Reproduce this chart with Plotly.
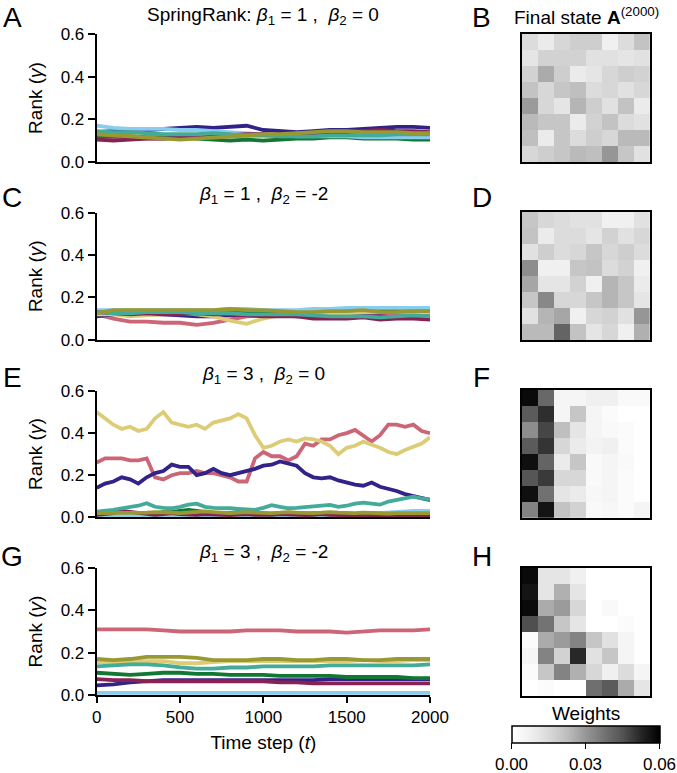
import plotly.graph_objects as go

W, H = 677, 773

# ---------------- data ----------------
t_coarse = list(range(0, 2001, 100))
t_fine = list(range(0, 2001, 50))
node_colors = ['#CC6677', '#332288', '#DDCC77', '#117733', '#88CCEE', '#882255', '#44AA99', '#999933']
xtick_vals = [0, 500, 1000, 1500, 2000]
ytick_vals = [0.0, 0.2, 0.4, 0.6]
ytick_text = ['0.0', '0.2', '0.4', '0.6']
cbar_vals = [0.0, 0.03, 0.06]
cbar_text = ['0.00', '0.03', '0.06']

# Panel A: beta1=1, beta2=0 (order: rose, indigo, sand, green, cyan, wine, teal, olive)
rank_A = [
    [0.11,0.105,0.11,0.11,0.11,0.115,0.115,0.12,0.12,0.12,0.125,0.125,0.12,0.12,0.125,0.12,0.12,0.125,0.13,0.13,0.13],
    [0.14,0.145,0.15,0.15,0.155,0.16,0.165,0.16,0.165,0.17,0.15,0.145,0.14,0.145,0.15,0.15,0.155,0.16,0.165,0.165,0.16],
    [0.125,0.125,0.13,0.125,0.12,0.12,0.125,0.13,0.13,0.12,0.12,0.115,0.12,0.125,0.125,0.13,0.125,0.13,0.13,0.13,0.13],
    [0.12,0.12,0.12,0.115,0.115,0.115,0.11,0.105,0.10,0.105,0.10,0.105,0.11,0.11,0.115,0.115,0.11,0.11,0.11,0.105,0.105],
    [0.17,0.16,0.155,0.155,0.155,0.15,0.15,0.145,0.14,0.135,0.13,0.125,0.12,0.12,0.12,0.12,0.115,0.115,0.115,0.115,0.115],
    [0.105,0.10,0.105,0.11,0.11,0.115,0.12,0.12,0.125,0.13,0.13,0.125,0.13,0.13,0.135,0.14,0.145,0.15,0.145,0.145,0.14],
    [0.145,0.14,0.14,0.135,0.13,0.13,0.13,0.135,0.13,0.125,0.125,0.12,0.12,0.12,0.125,0.125,0.125,0.125,0.13,0.13,0.13],
    [0.13,0.125,0.12,0.115,0.11,0.105,0.11,0.115,0.12,0.125,0.13,0.13,0.135,0.14,0.145,0.145,0.14,0.14,0.14,0.135,0.135],
]

# Panel C: beta1=1, beta2=-2
rank_C = [
    [0.12,0.10,0.085,0.085,0.08,0.08,0.07,0.08,0.095,0.11,0.115,0.12,0.12,0.115,0.115,0.12,0.12,0.12,0.12,0.12,0.12],
    [0.11,0.12,0.125,0.12,0.12,0.115,0.11,0.11,0.115,0.12,0.12,0.115,0.11,0.115,0.115,0.11,0.11,0.11,0.105,0.105,0.10],
    [0.12,0.12,0.11,0.115,0.12,0.125,0.12,0.11,0.09,0.075,0.10,0.115,0.12,0.125,0.125,0.125,0.13,0.13,0.13,0.13,0.13],
    [0.13,0.13,0.13,0.13,0.13,0.135,0.135,0.13,0.13,0.13,0.135,0.135,0.135,0.14,0.14,0.14,0.145,0.145,0.145,0.145,0.14],
    [0.14,0.14,0.14,0.14,0.14,0.14,0.14,0.14,0.145,0.145,0.14,0.14,0.14,0.145,0.145,0.15,0.15,0.15,0.15,0.15,0.15],
    [0.13,0.125,0.12,0.125,0.12,0.12,0.125,0.12,0.12,0.115,0.11,0.11,0.11,0.10,0.10,0.10,0.105,0.095,0.10,0.10,0.095],
    [0.13,0.125,0.125,0.13,0.13,0.13,0.125,0.125,0.125,0.12,0.12,0.12,0.12,0.115,0.11,0.11,0.11,0.105,0.11,0.115,0.11],
    [0.125,0.14,0.14,0.14,0.14,0.14,0.14,0.14,0.145,0.14,0.14,0.135,0.13,0.13,0.135,0.135,0.14,0.13,0.13,0.135,0.135],
]

# Panel E: beta1=3, beta2=0 (t step 50)
rank_E = [
    [0.26,0.28,0.28,0.28,0.27,0.27,0.28,0.19,0.18,0.20,0.21,0.21,0.22,0.21,0.21,0.20,0.19,0.17,0.17,0.28,
     0.31,0.29,0.29,0.27,0.29,0.35,0.34,0.37,0.37,0.39,0.40,0.415,0.39,0.36,0.39,0.44,0.44,0.43,0.44,0.41,0.40],
    [0.14,0.16,0.17,0.19,0.18,0.16,0.19,0.21,0.22,0.25,0.24,0.24,0.20,0.21,0.23,0.21,0.20,0.21,0.22,0.23,
     0.245,0.25,0.265,0.255,0.245,0.21,0.19,0.185,0.19,0.175,0.165,0.155,0.15,0.165,0.145,0.135,0.125,0.11,0.10,0.09,0.082],
    [0.50,0.47,0.44,0.42,0.43,0.41,0.42,0.47,0.50,0.45,0.44,0.43,0.44,0.42,0.45,0.46,0.47,0.49,0.47,0.39,
     0.33,0.34,0.36,0.37,0.36,0.375,0.37,0.36,0.34,0.30,0.33,0.34,0.36,0.345,0.33,0.31,0.30,0.32,0.335,0.35,0.38],
    [0.015,0.015,0.02,0.02,0.015,0.015,0.02,0.02,0.025,0.025,0.03,0.035,0.03,0.025,0.02,0.02,0.02,0.025,0.02,0.02,
     0.015,0.015,0.02,0.02,0.015,0.015,0.02,0.02,0.015,0.015,0.01,0.01,0.015,0.015,0.01,0.01,0.01,0.01,0.01,0.01,0.01],
    [0.008,0.008,0.006,0.006,0.006,0.006,0.006,0.006,0.006,0.006,0.006,0.006,0.006,0.006,0.006,0.006,0.006,0.006,0.006,0.006,
     0.006,0.006,0.006,0.006,0.006,0.006,0.008,0.008,0.01,0.01,0.01,0.012,0.015,0.018,0.02,0.022,0.025,0.028,0.03,0.03,0.03],
    [0.012,0.015,0.02,0.03,0.025,0.02,0.015,0.012,0.015,0.02,0.015,0.012,0.012,0.015,0.015,0.012,0.01,0.012,0.015,0.012,
     0.01,0.012,0.015,0.012,0.01,0.01,0.012,0.015,0.012,0.01,0.01,0.008,0.008,0.01,0.008,0.008,0.006,0.006,0.006,0.006,0.006],
    [0.027,0.03,0.035,0.043,0.05,0.055,0.067,0.05,0.045,0.043,0.05,0.06,0.065,0.05,0.045,0.045,0.043,0.04,0.037,0.035,
     0.045,0.058,0.05,0.043,0.045,0.048,0.05,0.055,0.059,0.05,0.055,0.065,0.07,0.065,0.06,0.075,0.082,0.09,0.098,0.09,0.085],
    [0.02,0.02,0.022,0.02,0.018,0.02,0.022,0.025,0.025,0.022,0.02,0.022,0.025,0.028,0.025,0.022,0.02,0.022,0.025,0.022,
     0.02,0.02,0.022,0.025,0.022,0.02,0.02,0.022,0.025,0.022,0.02,0.02,0.022,0.02,0.018,0.018,0.02,0.02,0.018,0.018,0.02],
]

# Panel G: beta1=3, beta2=-2
rank_G = [
    [0.31,0.31,0.31,0.31,0.305,0.30,0.30,0.30,0.30,0.305,0.305,0.305,0.30,0.30,0.30,0.295,0.30,0.305,0.305,0.305,0.31],
    [0.045,0.05,0.06,0.065,0.07,0.07,0.07,0.07,0.07,0.07,0.07,0.07,0.07,0.07,0.075,0.075,0.075,0.075,0.075,0.075,0.075],
    [0.155,0.155,0.16,0.16,0.16,0.15,0.15,0.155,0.16,0.16,0.16,0.16,0.16,0.16,0.16,0.16,0.165,0.16,0.16,0.165,0.165],
    [0.105,0.10,0.095,0.10,0.105,0.105,0.10,0.10,0.095,0.095,0.095,0.09,0.09,0.09,0.09,0.085,0.085,0.085,0.085,0.08,0.08],
    [0.01,0.01,0.01,0.01,0.01,0.01,0.01,0.01,0.01,0.01,0.01,0.01,0.01,0.01,0.01,0.01,0.01,0.01,0.01,0.01,0.01],
    [0.075,0.07,0.07,0.065,0.065,0.065,0.065,0.065,0.065,0.065,0.065,0.06,0.06,0.055,0.055,0.055,0.055,0.055,0.055,0.055,0.055],
    [0.135,0.14,0.145,0.145,0.14,0.13,0.125,0.125,0.13,0.13,0.135,0.135,0.135,0.135,0.14,0.14,0.14,0.14,0.14,0.14,0.145],
    [0.17,0.165,0.17,0.18,0.18,0.18,0.175,0.165,0.165,0.165,0.17,0.17,0.165,0.165,0.17,0.17,0.165,0.165,0.17,0.17,0.17],
]

# Final adjacency matrices (weights)
weights_B = [
    [0.014,0.009,0.0155,0.018,0.018,0.0075,0.014,0.021],
    [0.011,0.017,0.017,0.017,0.0125,0.0125,0.011,0.0125],
    [0.017,0.026,0.018,0.009,0.011,0.0155,0.018,0.017],
    [0.021,0.0155,0.020,0.022,0.014,0.0155,0.0125,0.0155],
    [0.029,0.0155,0.011,0.024,0.018,0.0125,0.021,0.009],
    [0.023,0.020,0.020,0.009,0.017,0.021,0.014,0.0125],
    [0.022,0.009,0.020,0.014,0.018,0.0155,0.023,0.023],
    [0.0155,0.018,0.020,0.023,0.022,0.030,0.020,0.0125],
]
weights_D = [
    [0.020,0.0155,0.014,0.0125,0.0125,0.0075,0.0075,0.0125],
    [0.021,0.009,0.014,0.014,0.011,0.017,0.0125,0.0155],
    [0.0125,0.018,0.014,0.0155,0.020,0.0155,0.018,0.014],
    [0.032,0.0075,0.0075,0.020,0.021,0.014,0.017,0.0075],
    [0.027,0.011,0.011,0.017,0.0075,0.024,0.020,0.009],
    [0.020,0.033,0.0155,0.0155,0.020,0.024,0.020,0.011],
    [0.0125,0.024,0.027,0.0075,0.0155,0.017,0.0125,0.030],
    [0.023,0.023,0.041,0.021,0.011,0.0155,0.0075,0.025],
]
weights_F = [
    [0.058,0.040,0.005,0.005,0.0075,0.0075,0.003,0.003],
    [0.043,0.051,0.005,0.020,0.005,0.002,0.0,0.0],
    [0.032,0.047,0.022,0.011,0.005,0.003,0.002,0.0],
    [0.043,0.050,0.0155,0.009,0.006,0.0075,0.002,0.0],
    [0.057,0.041,0.009,0.020,0.003,0.005,0.003,0.0],
    [0.044,0.049,0.0155,0.0155,0.003,0.005,0.002,0.0],
    [0.057,0.038,0.011,0.009,0.004,0.005,0.002,0.0],
    [0.034,0.056,0.021,0.017,0.003,0.004,0.002,0.005],
]
weights_H = [
    [0.058,0.011,0.011,0.0075,0.0,0.0,0.0,0.0],
    [0.056,0.011,0.025,0.011,0.0,0.0,0.0,0.0],
    [0.058,0.026,0.029,0.0155,0.0,0.003,0.0,0.0],
    [0.0455,0.0375,0.020,0.011,0.0,0.0,0.002,0.0],
    [0.002,0.026,0.029,0.034,0.020,0.0125,0.005,0.0],
    [0.005,0.034,0.017,0.052,0.0125,0.020,0.005,0.0],
    [0.002,0.020,0.034,0.025,0.0155,0.0075,0.014,0.005],
    [0.0,0.002,0.0,0.0,0.0385,0.043,0.026,0.011],
]

# ---------------- layout helpers ----------------
def fx(p):
    return p / W

def fy(p):
    return 1 - p / H

FONT = 'Liberation Sans, Arial, Helvetica, sans-serif'
greys = [[0.0, '#ffffff'], [0.125, '#f0f0f0'], [0.25, '#d9d9d9'], [0.375, '#bdbdbd'],
         [0.5, '#969696'], [0.625, '#737373'], [0.75, '#525252'], [0.875, '#252525'], [1.0, '#000000']]

row_tops = [34, 212.7, 391, 568]
row_bots = [162, 339.7, 517.3, 695]
line_x0, line_x1 = 96.7, 430
hm_x0, hm_x1 = 521.7, 650
hm_tops = [33.5, 212, 390, 568]
hm_bots = [162.3, 340, 517.7, 696]

fig = go.Figure()

panels = [(rank_A, t_coarse), (rank_C, t_coarse), (rank_E, t_fine), (rank_G, t_coarse)]
for i, (series, tt) in enumerate(panels):
    ax = '' if i == 0 else str(i + 1)
    for k, vals in enumerate(series):
        fig.add_trace(go.Scatter(x=tt, y=vals, mode='lines', xaxis='x' + ax, yaxis='y' + ax,
                                 line=dict(color=node_colors[k], width=3.8), showlegend=False,
                                 hoverinfo='skip'))

weights = [weights_B, weights_D, weights_F, weights_H]
for j, z in enumerate(weights):
    ax = str(j + 5)
    show = (j == 3)
    tr = go.Heatmap(z=z, x=list(range(8)), y=list(range(8)), xaxis='x' + ax, yaxis='y' + ax,
                    colorscale=greys, zmin=0, zmax=0.06, showscale=show, hoverinfo='skip')
    if show:
        tr.colorbar = dict(orientation='h', x=fx(585.5), xanchor='center',
                           y=fy(725.7), yanchor='top', len=147.6, lenmode='pixels',
                           thickness=16.6, thicknessmode='pixels', xpad=0, ypad=0,
                           outlinewidth=1.5, outlinecolor='black',
                           tickvals=cbar_vals, ticktext=cbar_text, ticks='outside',
                           ticklen=6, tickwidth=1.5, tickcolor='black',
                           tickfont=dict(size=17, family=FONT, color='black'))
    fig.add_trace(tr)

layout = dict(width=W, height=H, margin=dict(l=0, r=0, t=0, b=0, autoexpand=False),
              template='none', hovermode=False,
              paper_bgcolor='white', plot_bgcolor='white',
              font=dict(family=FONT, size=17, color='black'))

for i in range(4):
    ax = '' if i == 0 else str(i + 1)
    last = (i == 3)
    xa = dict(domain=[fx(line_x0), fx(line_x1)], range=[0, 2000], automargin=False,
              anchor='y' + ax, showline=True, linewidth=2, linecolor='black',
              showgrid=False, zeroline=False,
              ticks='outside' if last else '', ticklen=6, tickwidth=2,
              tickcolor='black', tickvals=xtick_vals,
              showticklabels=last, tickfont=dict(size=17))
    if last:
        xa['title'] = dict(text='Time step (<i>t</i>)', font=dict(size=19), standoff=9)
    layout['xaxis' + ax] = xa
    layout['yaxis' + ax] = dict(domain=[fy(row_bots[i]), fy(row_tops[i])], range=[0, 0.6],
                                automargin=False,
                                anchor='x' + ax, showline=True, linewidth=2, linecolor='black',
                                showgrid=False, zeroline=False, ticks='outside', ticklen=7,
                                tickwidth=2, tickcolor='black', tickvals=ytick_vals,
                                ticktext=ytick_text, tickfont=dict(size=17),
                                title=dict(text='Rank (<i>γ</i>)', font=dict(size=19), standoff=13))

for j in range(4):
    ax = str(j + 5)
    layout['xaxis' + ax] = dict(domain=[fx(hm_x0), fx(hm_x1)], range=[-0.5, 7.5], anchor='y' + ax,
                                automargin=False,
                                showline=True, mirror=True, linewidth=2, linecolor='black',
                                showgrid=False, zeroline=False, showticklabels=False, ticks='')
    layout['yaxis' + ax] = dict(domain=[fy(hm_bots[j]), fy(hm_tops[j])], range=[7.5, -0.5],
                                automargin=False,
                                anchor='x' + ax, showline=True, mirror=True, linewidth=2,
                                linecolor='black', showgrid=False, zeroline=False,
                                showticklabels=False, ticks='')

fig.update_layout(**layout)

annotations = []
letters = [('A', 12, 18), ('B', 482, 18), ('C', 12, 197), ('D', 482, 197),
           ('E', 12, 377), ('F', 482, 377), ('G', 12, 556), ('H', 482, 556)]
for txt, x, y in letters:
    annotations.append(dict(text=txt, x=fx(x), y=fy(y), xref='paper', yref='paper',
                            xanchor='center', yanchor='middle', showarrow=False,
                            font=dict(size=28, family=FONT, color='black')))

titles = [
    ('SpringRank: <i>β</i><sub>1</sub> = 1 ,  <i>β</i><sub>2</sub> = 0', 16),
    ('<i>β</i><sub>1</sub> = 1 ,  <i>β</i><sub>2</sub> = -2', 195),
    ('<i>β</i><sub>1</sub> = 3 ,  <i>β</i><sub>2</sub> = 0', 375),
    ('<i>β</i><sub>1</sub> = 3 ,  <i>β</i><sub>2</sub> = -2', 553),
]
for txt, y in titles:
    annotations.append(dict(text=txt, x=fx((line_x0 + line_x1) / 2), y=fy(y), xref='paper',
                            yref='paper', xanchor='center', yanchor='middle', showarrow=False,
                            font=dict(size=19, family=FONT, color='black')))
annotations.append(dict(text='Final state <b>A</b><sup>(2000)</sup>', x=fx(586), y=fy(16),
                        xref='paper', yref='paper', xanchor='center', yanchor='middle',
                        showarrow=False, font=dict(size=19, family=FONT, color='black')))
annotations.append(dict(text='Weights', x=fx(585.5), y=fy(713), xref='paper', yref='paper',
                        xanchor='center', yanchor='middle', showarrow=False,
                        font=dict(size=19, family=FONT, color='black')))
fig.update_layout(annotations=annotations)

fig.write_html('out.html', config={'displayModeBar': False, 'staticPlot': True},
               post_script="document.body.style.margin='0';document.body.style.overflow='hidden';")
